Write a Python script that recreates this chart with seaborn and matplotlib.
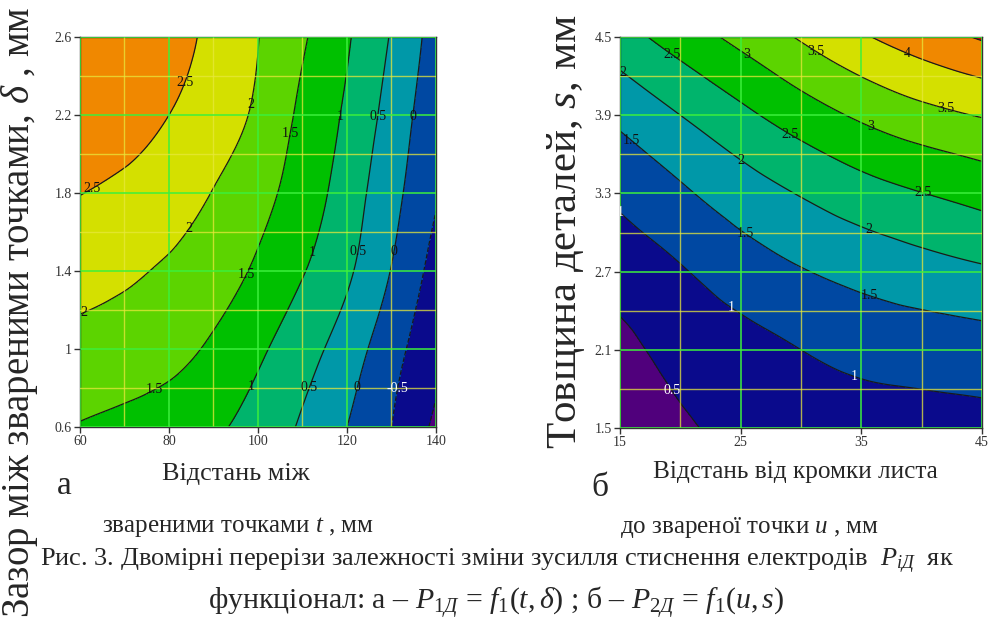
import numpy as np
import matplotlib
matplotlib.use("Agg")
import matplotlib.pyplot as plt
import matplotlib.tri as mtri
import seaborn as sns

# ---- data ----
# panel a: P1 = f(t, delta), rows = delta, columns = t
t_vals = [60, 70, 80, 90, 100, 110, 120, 130, 140]
delta_vals = [0.6, 1.0, 1.4, 1.8, 2.2, 2.6]
p1_vals = [
    [1.47, 1.37, 1.24, 1.08, 0.80, 0.44, 0.00, -0.50, -1.10],
    [1.85, 1.77, 1.65, 1.42, 1.09, 0.70, 0.26, -0.31, -0.86],
    [2.18, 2.08, 1.93, 1.73, 1.42, 1.03, 0.58, -0.02, -0.68],
    [2.51, 2.41, 2.26, 1.98, 1.66, 1.27, 0.76, 0.16, -0.45],
    [2.76, 2.66, 2.50, 2.27, 1.90, 1.40, 0.92, 0.30, -0.30],
    [2.95, 2.85, 2.68, 2.38, 2.01, 1.56, 1.05, 0.46, -0.20],
]
p1_levels = [-2, -1, -0.5, 0, 0.5, 1, 1.5, 2, 2.5, 3.5]
t_ticks = [60, 80, 100, 120, 140]
delta_ticks = [0.6, 1.0, 1.4, 1.8, 2.2, 2.6]
delta_ticklabels = ["0.6", "1", "1.4", "1.8", "2.2", "2.6"]

# panel b: P2 = f(u, s), rows = s, columns = u
u_vals = [15, 20, 25, 30, 35, 40, 45]
s_vals = [1.5, 2.1, 2.7, 3.3, 3.9, 4.5]
p2_vals = [
    [0.18, 0.44, 0.60, 0.71, 0.78, 0.83, 0.86],
    [0.37, 0.65, 0.83, 1.00, 1.15, 1.22, 1.28],
    [0.71, 0.96, 1.24, 1.47, 1.65, 1.80, 1.93],
    [1.10, 1.42, 1.75, 2.03, 2.29, 2.49, 2.67],
    [1.62, 2.00, 2.38, 2.75, 3.08, 3.34, 3.53],
    [2.30, 2.73, 3.14, 3.55, 3.94, 4.26, 4.55],
]
p2_levels = [0, 0.5, 1, 1.5, 2, 2.5, 3, 3.5, 4, 4.5, 5]
u_ticks = [15, 25, 35, 45]
s_ticks = [1.5, 2.1, 2.7, 3.3, 3.9, 4.5]

# label spots (where the original put the inline numbers)
p1_label_spots = [(83.2, 2.37), (63.4, 1.80), (97.5, 2.26), (85.5, 1.60), (61.1, 1.18),
                  (107.9, 2.10), (97.5, 1.38), (76.9, 0.78), (118.8, 2.19), (111.7, 1.50),
                  (99, 0.80), (127.8, 2.19), (122.2, 1.50), (112.1, 0.80), (134.9, 2.19),
                  (130.4, 1.50), (122.5, 0.80), (131.9, 0.795)]
p2_label_spots = [(19.4, 4.37), (25.4, 4.35), (31.2, 4.39), (38.8, 4.38), (15.4, 4.25),
                  (42, 3.96), (35.9, 3.83), (29.1, 3.76), (16.1, 3.73), (25.1, 3.56),
                  (40.2, 3.32), (15.3, 3.2), (25.6, 3.02), (35.7, 3.03), (35.7, 2.53),
                  (24.3, 2.44), (34.5, 1.91), (19.4, 1.79)]

band_colors = sns.color_palette(["#50007c", "#0a0a8c", "#0048a2", "#0098a8", "#00b46c",
                                 "#00c000", "#5cd400", "#d4e000", "#f08800", "#e80000"])

sns.set_style("white")
plt.rcParams["font.family"] = ["Liberation Serif", "DejaVu Serif"]
plt.rcParams["mathtext.fontset"] = "custom"
plt.rcParams["mathtext.rm"] = "Liberation Serif"
plt.rcParams["mathtext.it"] = "Liberation Serif:italic"


def grid_tri(xs, ys, zs):
    # smooth in index space (even spacing), then map back to data units
    nx, ny = len(xs), len(ys)
    I, J = np.meshgrid(np.arange(nx, dtype=float), np.arange(ny, dtype=float))
    tris = []
    for j in range(ny - 1):
        for i in range(nx - 1):
            a = j * nx + i
            tris.append([a, a + 1, a + nx + 1])
            tris.append([a, a + nx + 1, a + nx])
    tri = mtri.Triangulation(I.ravel(), J.ravel(), np.array(tris))
    refiner = mtri.UniformTriRefiner(tri)
    fine, z = refiner.refine_field(np.asarray(zs, dtype=float).ravel(), subdiv=4)
    fx = np.interp(fine.x, np.arange(nx), xs)
    fy = np.interp(fine.y, np.arange(ny), ys)
    return mtri.Triangulation(fx, fy, fine.triangles), z


def panel(ax, xs, ys, zs, levels, colors, spots, white, xticks, yticks, yticklabels,
          xminor, yminor):
    tri, z = grid_tri(xs, ys, zs)
    ax.tricontourf(tri, z, levels=levels, colors=colors)
    cs = ax.tricontour(tri, z, levels=levels[1:-1], colors="#1a1a1a", linewidths=0.9)
    ax.set_xlim(xs[0], xs[-1])
    ax.set_ylim(ys[0], ys[-1])
    texts = ax.clabel(cs, levels[1:-1], manual=spots, inline=False, fmt="%g", fontsize=10)
    for tx in texts:
        tx.set_rotation(0)
        tx.set_color("white" if tx.get_text() in white else "#111111")
    ax.set_xticks(xticks)
    ax.set_yticks(yticks)
    ax.set_yticklabels(yticklabels)
    ax.set_xticks(xminor, minor=True)
    ax.set_yticks(yminor, minor=True)
    ax.grid(which="major", color="#3cf03c", lw=1.1)
    ax.grid(which="minor", color="#e8e83c", lw=1.0, alpha=0.75)
    ax.set_axisbelow(False)
    ax.tick_params(which="major", direction="out", length=4, width=1, color="#333333",
                   labelsize=10, labelcolor="#333333", left=True, bottom=True, pad=2)
    ax.tick_params(which="minor", length=0)
    for sp in ax.spines.values():
        sp.set_color("#333333")
        sp.set_linewidth(1)


fig = plt.figure(figsize=(9.9, 6.23), dpi=100)
ax1 = fig.add_axes([0.0808, 0.3146, 0.3596, 0.626])
ax2 = fig.add_axes([0.6263, 0.313, 0.3656, 0.6276])

panel(ax1, t_vals, delta_vals, p1_vals, p1_levels, band_colors[:9], p1_label_spots,
      {"-0.5"}, t_ticks, delta_ticks, delta_ticklabels,
      [70, 90, 110, 130], [0.8, 1.2, 1.6, 2.0, 2.4])
panel(ax2, u_vals, s_vals, p2_vals, p2_levels, band_colors, p2_label_spots,
      {"1", "0.5"}, u_ticks, s_ticks, [str(v) for v in s_ticks],
      [20, 30, 40], [1.8, 2.4, 3.0, 3.6, 4.2])


def px(x, y):
    return x / 990, 1 - y / 623


fig.text(*px(20, 312), r"Зазор між звареними точками, $\delta$ , мм", rotation=90,
         ha="center", va="center", fontsize=28)
fig.text(*px(566, 232), r"Товщина деталей, $s$, мм", rotation=90,
         ha="center", va="center", fontsize=31)
fig.text(*px(64, 486), "а", ha="center", va="center", fontsize=24)
fig.text(*px(600, 488), "б", ha="center", va="center", fontsize=24)
fig.text(*px(236, 474), "Відстань між", ha="center", va="center", fontsize=18.8)
fig.text(*px(795, 472), "Відстань від кромки листа", ha="center", va="center", fontsize=18.2)
fig.text(*px(238, 527), r"звареними точками $t$ , мм", ha="center", va="center", fontsize=18)
fig.text(*px(750, 527), r"до звареної точки $u$ , мм", ha="center", va="center", fontsize=18)
fig.text(*px(497, 561),
         r"Рис. 3. Двомірні перерізи залежності зміни зусилля стиснення електродів  $P_{iД}$  як",
         ha="center", va="center", fontsize=19)
fig.text(*px(496, 603),
         r"функціонал: а – $P_{1Д}$ = $f_1(t,\delta)$ ; б – $P_{2Д}$ = $f_1(u,s)$",
         ha="center", va="center", fontsize=21.5)

fig.savefig("out.png", dpi=100)
